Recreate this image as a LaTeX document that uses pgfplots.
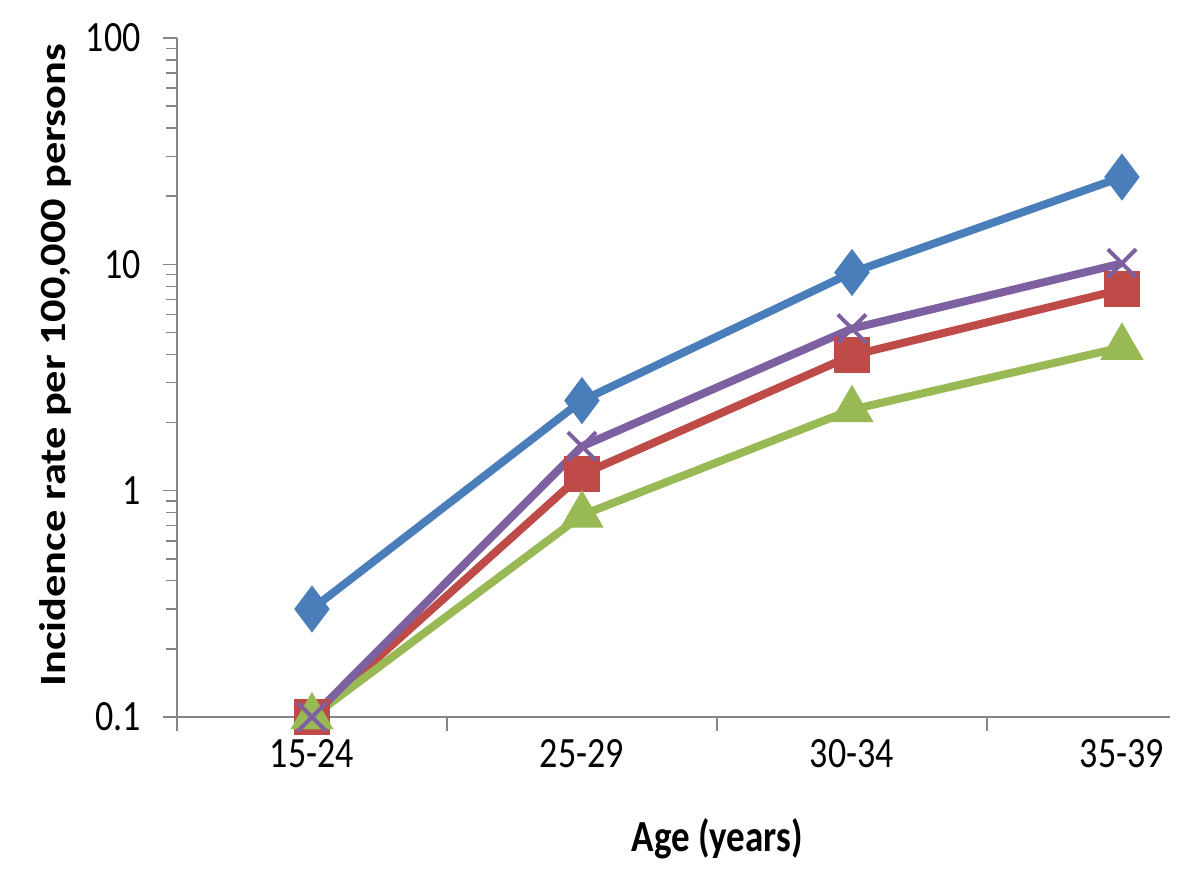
\documentclass[border=0pt]{standalone}
\usepackage{pgfplots}
\pgfplotsset{compat=1.18}
\usepackage{fontspec}
\setmainfont{Carlito}
\definecolor{sblue}{HTML}{4A7EBB}
\definecolor{sred}{HTML}{BE4B48}
\definecolor{sgreen}{HTML}{98B954}
\definecolor{spurple}{HTML}{7D60A0}
\definecolor{axgray}{HTML}{868686}
\newcommand{\vs}[1]{\scalebox{1}[1.2]{#1}}
\newcommand{\hs}[1]{\scalebox{1.2}[1]{#1}}
\begin{document}
\begin{tikzpicture}
\begin{axis}[
  at={(0,0)}, anchor=south west,
  scale only axis, width=496.5pt, height=339.5pt,
  ymode=log, ymin=0.1, ymax=100,
  xmin=-0.5, xmax=3.178,
  axis lines=left,
  axis line style={axgray, line width=0.75pt, -},
  tick style={axgray, line width=0.75pt},
  tick align=outside,
  major tick length=7pt, minor tick length=5.5pt,
  xtick={-0.5,0.5,1.5,2.5}, xticklabels={},
  extra x ticks={0,1,2,3},
  extra x tick labels={\vs{15-24},\vs{25-29},\vs{30-34},\vs{35-39}},
  extra x tick style={major tick length=0pt, tick style={draw=none}},
  ytick={0.1,1,10,100}, yticklabels={\vs{0.1},\vs{1},\vs{10},\vs{100}},
  minor ytick={0.2,0.3,0.4,0.5,0.6,0.7,0.8,0.9,2,3,4,5,6,7,8,9,20,30,40,50,60,70,80,90},
  /pgf/number format/assume math mode=true,
  tick label style={font=\fontsize{18}{21}\selectfont, text=black},
  xticklabel style={anchor=north, inner sep=0pt, yshift=-11pt},
  yticklabel style={anchor=east, inner sep=0pt, xshift=-11pt},
  xlabel={\vs{Age (years)}},
  ylabel={\hs{Incidence rate per 100,000 persons}},
  label style={font=\bfseries\fontsize{18.5}{22}\selectfont},
  xlabel style={at={([yshift=-61pt]axis description cs:0.544,0)}, anchor=center},
  ylabel style={at={([xshift=-61pt]axis description cs:0,0.518)}, anchor=center, rotate=0},
  clip=false,
  every axis plot/.append style={line width=4pt},
]
\addplot[sblue, mark=diamond*, mark size=8.5pt, mark options={solid}] coordinates {(0,0.30) (1,2.5) (2,9.2) (3,24.3)};
\addplot[sred, mark=square*, mark size=7pt] coordinates {(0,0.1) (1,1.18) (2,3.96) (3,7.75)};
\addplot[sgreen, mark=triangle*, mark size=8.5pt] coordinates {(0,0.1) (1,0.78) (2,2.28) (3,4.3)};
\addplot[spurple, mark=x, mark size=10pt, mark options={line width=2pt}] coordinates {(0,0.1) (1,1.57) (2,5.2) (3,10.1)};
\end{axis}
\pgfresetboundingbox
\path (-88.5pt,-82pt) rectangle (511.5pt,358.5pt);
\end{tikzpicture}
\end{document}
